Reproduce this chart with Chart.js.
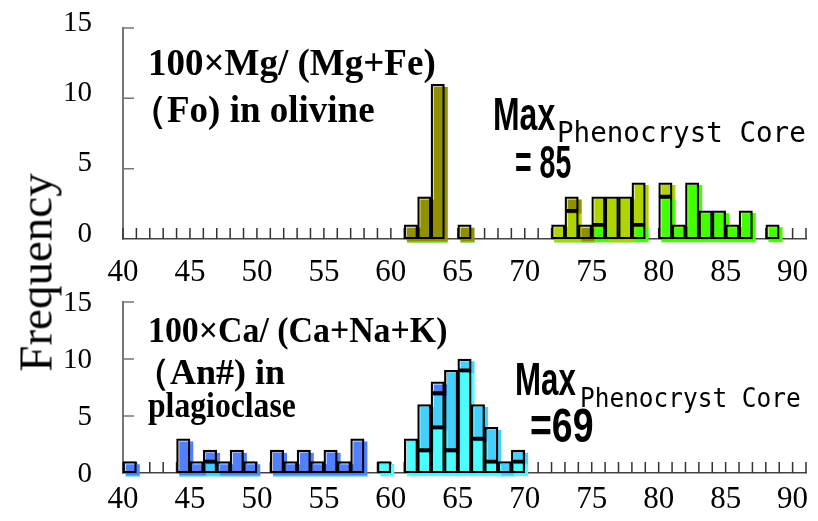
<!DOCTYPE html>
<html>
<head>
<meta charset="utf-8">
<script src="https://cdn.jsdelivr.net/npm/chart.js@4.4.0/dist/chart.umd.min.js"></script>
<style>
  html, body { margin: 0; padding: 0; background: #fff; }
  #wrap { position: relative; width: 818px; height: 521px; overflow: hidden; }
  canvas { position: absolute; left: 0; }
  .lbl { position: absolute; white-space: nowrap; line-height: 1; color: #000; transform-origin: 0 0; }
  .ttl { font-family: 'Liberation Serif', serif; font-weight: bold; font-size: 36px; }
  .max { font-family: 'Liberation Sans', sans-serif; font-weight: bold; }
  .sub { font-family: 'DejaVu Sans Mono', monospace; }
  #freq { position: absolute; left: -64px; top: 249px; width: 200px; text-align: center;
          font-family: 'Liberation Serif', serif; font-size: 47px; line-height: 1;
          transform: rotate(-90deg); }
</style>
</head>
<body>
<div id="wrap">
  <canvas id="olChart" width="818" height="300" style="top:0"></canvas>
  <canvas id="plChart" width="818" height="259" style="top:262px"></canvas>

  <div id="freq">Frequency</div>

  <div class="lbl ttl" style="left:148px; top:44px; font-size:37px">100×Mg/ (Mg+Fe)</div>
  <div class="lbl ttl" style="left:130px; top:91px; font-size:37px">（Fo) in olivine</div>
  <div class="lbl max" style="left:493px; top:90px; font-size:47px; transform:scaleX(0.68)">Max</div>
  <div class="lbl sub" style="left:557px; top:118px; font-size:29px; transform:scaleX(0.95)">Phenocryst Core</div>
  <div class="lbl max" style="left:515px; top:139px; font-size:46px; transform:scaleX(0.62)">= 85</div>

  <div class="lbl ttl" style="left:148px; top:312px; transform:scaleX(0.94)">100×Ca/ (Ca+Na+K)</div>
  <div class="lbl ttl" style="left:134px; top:354px">（An#) in</div>
  <div class="lbl ttl" style="left:148px; top:387px; transform:scaleX(0.88)">plagioclase</div>
  <div class="lbl max" style="left:515px; top:356px; font-size:46px; transform:scaleX(0.68)">Max</div>
  <div class="lbl sub" style="left:580px; top:385px; font-size:26px; transform:scaleX(0.94)">Phenocryst Core</div>
  <div class="lbl max" style="left:530px; top:402px; font-size:48px; transform:scaleX(0.78)">=69</div>
</div>

<script>
// axis ticks
const xTicks = [40, 45, 50, 55, 60, 65, 70, 75, 80, 85, 90];
const yTicks = [0, 5, 10, 15];

// olivine Fo histogram (bin start values, counts per group)
const oliveBins   = [61, 62, 63, 65, 72, 73, 74, 75, 76, 77, 78, 80, 81, 82, 83, 84, 85, 86, 88];
const oliveGreen  = [0, 0, 0, 0, 0, 0, 0, 1, 0, 0, 1, 3, 1, 4, 2, 2, 1, 2, 1];
const oliveYellow = [0, 0, 0, 0, 1, 2, 0, 2, 3, 3, 3, 1, 0, 0, 0, 0, 0, 0, 0];
const oliveDark   = [1, 3, 11, 1, 0, 1, 1, 0, 0, 0, 0, 0, 0, 0, 0, 0, 0, 0, 0];

// plagioclase An histogram
const plagBins = [40, 44, 45, 46, 47, 48, 49, 51, 52, 53, 54, 55, 56, 57, 59, 61, 62, 63, 64, 65, 66, 67, 68, 69];
const plagCyan = [0, 0, 0, 0, 0, 0, 0, 0, 0, 0, 0, 0, 0, 0, 1, 3, 2, 4, 2, 9, 3, 1, 0, 1];
const plagSky  = [0, 0, 0, 1, 0, 0, 0, 0, 0, 0, 0, 0, 0, 0, 0, 0, 4, 3, 7, 1, 3, 3, 1, 1];
const plagBlue = [1, 3, 1, 1, 1, 2, 1, 2, 1, 2, 1, 2, 1, 3, 0, 0, 0, 1, 0, 0, 0, 0, 0, 0];

// small inward ticks + shifted fills
const histPlugin = {
    id: 'histPlugin',
    beforeDatasetsDraw(chart) {
        const { ctx, scales: { x, y } } = chart;
        const base = y.getPixelForValue(0);
        ctx.save();
        ctx.lineWidth = 1.5;
        ctx.strokeStyle = '#333';
        ctx.beginPath();
        for (let v = x.min; v <= x.max; v++) {
            const px = x.getPixelForValue(v);
            ctx.moveTo(px, base);
            ctx.lineTo(px, base - 11);
        }
        ctx.stroke();
        ctx.strokeStyle = '#777';
        ctx.beginPath();
        y.ticks.forEach(t => {
            if (t.value <= 0) return;
            const py = y.getPixelForValue(t.value);
            ctx.moveTo(x.left, py);
            ctx.lineTo(x.left + 11, py);
        });
        ctx.stroke();
        ctx.restore();
    },
    beforeDatasetDraw(chart, args) {
        if (chart.data.datasets[args.index].shifted) {
            chart.ctx.save();
            chart.ctx.translate(3, 3);
        }
    },
    afterDatasetDraw(chart, args) {
        if (chart.data.datasets[args.index].shifted) chart.ctx.restore();
    }
};

function makeHist(id, bins, series, colors, layout) {
    const toPoints = vals => bins.map((b, i) => ({ x: b + 0.5, y: vals[i] }));
    const common = { barPercentage: 1, categoryPercentage: 1, grouped: false, clip: false };
    const datasets = [];
    // outlines first so they are painted over the fills
    series.forEach(vals => datasets.push(Object.assign({
        data: toPoints(vals),
        stack: 'outline',
        backgroundColor: 'rgba(0,0,0,0)',
        borderColor: '#000',
        borderWidth: 1.6,
        borderSkipped: false
    }, common)));
    series.forEach((vals, k) => datasets.push(Object.assign({
        data: toPoints(vals),
        stack: 'fill',
        backgroundColor: colors[k],
        borderWidth: 0,
        shifted: true
    }, common)));

    return new Chart(document.getElementById(id), {
        type: 'bar',
        data: { datasets },
        plugins: [histPlugin],
        options: {
            responsive: false,
            animation: false,
            events: [],
            layout: { padding: { left: 0, right: 12, top: layout.top, bottom: 0 } },
            plugins: { legend: { display: false }, tooltip: { enabled: false } },
            scales: {
                x: {
                    type: 'linear', min: 40, max: 91, offset: false, stacked: false,
                    afterBuildTicks: s => { s.ticks = xTicks.map(v => ({ value: v })); },
                    afterFit: s => { s.height = layout.xHeight; s.paddingLeft = 0; s.paddingRight = 0; },
                    grid: { display: false, drawTicks: false, offset: false },
                    border: { display: true, color: '#444', width: 1.5 },
                    ticks: {
                        font: { family: 'Liberation Serif', size: 31 }, color: '#000',
                        padding: layout.xPad, maxRotation: 0, autoSkip: false
                    }
                },
                y: {
                    min: 0, max: 15, stacked: true,
                    afterBuildTicks: s => { s.ticks = yTicks.map(v => ({ value: v })); },
                    afterFit: s => { s.width = 123; s.paddingTop = 0; s.paddingBottom = 0; },
                    grid: { display: false, drawTicks: false },
                    border: { display: true, color: '#777', width: 2 },
                    ticks: {
                        font: { family: 'Liberation Serif', size: 29 }, color: '#000',
                        padding: 31, labelOffset: layout.yOff
                    }
                }
            }
        }
    });
}

makeHist('olChart', oliveBins, [oliveGreen, oliveYellow, oliveDark],
    ['#44ff00', '#b0d400', '#909000'],
    { top: 28, xHeight: 61, xPad: 15, yOff: -5 });

makeHist('plChart', plagBins, [plagCyan, plagSky, plagBlue],
    ['#4cffff', '#44d0ff', '#5080ff'],
    { top: 40, xHeight: 48, xPad: 8, yOff: 1 });
</script>
</body>
</html>
